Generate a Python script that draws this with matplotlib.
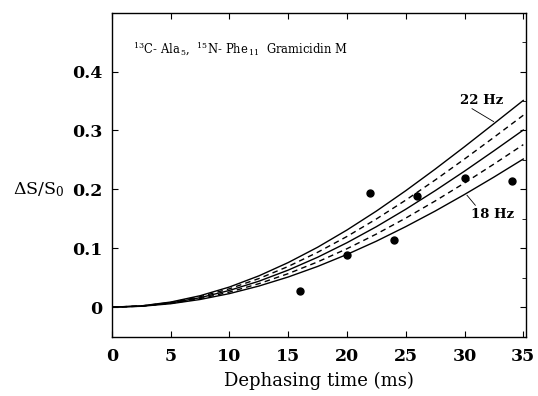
import numpy as np
import matplotlib
matplotlib.use("Agg")
import matplotlib.pyplot as plt

plt.rcParams['font.family'] = 'DejaVu Serif'
plt.rcParams['mathtext.fontset'] = 'dejavuserif'

t = [0, 2.5, 5, 7.5, 10, 12.5, 15, 17.5, 20, 22.5, 25, 27.5, 30, 32.5, 35]

# simulated dephasing curves for the couplings shown
curve_18 = [0, 0.00145, 0.0058, 0.0130, 0.0230, 0.0358, 0.0512, 0.0691, 0.0895, 0.1120, 0.1367, 0.1631, 0.1913, 0.2208, 0.2515]
curve_19 = [0, 0.00162, 0.00646, 0.0145, 0.0256, 0.0398, 0.0569, 0.0768, 0.0992, 0.1241, 0.1512, 0.1802, 0.2108, 0.2429, 0.2759]
curve_20 = [0, 0.00179, 0.00716, 0.0160, 0.0284, 0.0440, 0.0629, 0.0847, 0.1094, 0.1366, 0.1662, 0.1977, 0.2309, 0.2654, 0.3007]
curve_21 = [0, 0.00198, 0.00789, 0.0177, 0.0312, 0.0485, 0.0691, 0.0931, 0.1200, 0.1497, 0.1817, 0.2158, 0.2515, 0.2883, 0.3258]
curve_22 = [0, 0.00217, 0.00865, 0.0194, 0.0342, 0.0531, 0.0757, 0.1017, 0.1310, 0.1631, 0.1977, 0.2343, 0.2724, 0.3115, 0.3510]

# measured points
t_data = [16, 20, 22, 24, 26, 30, 34]
ds_data = [0.028, 0.089, 0.193, 0.114, 0.189, 0.219, 0.214]

fig = plt.figure(figsize=(5.38, 3.96), dpi=100)
ax = fig.add_axes([0.208, 0.150, 0.769, 0.818])

lw = 1.0
ax.plot(t, curve_22, color='black', lw=lw)
ax.plot(t, curve_21, color='black', lw=lw, dashes=(4, 3))
ax.plot(t, curve_20, color='black', lw=lw)
ax.plot(t, curve_19, color='black', lw=lw, dashes=(4, 3))
ax.plot(t, curve_18, color='black', lw=lw)
ax.plot(t_data, ds_data, 'o', color='black', ms=5)

# curve labels with leader lines
ax.text(31.47, 0.351, '22 Hz', fontsize=9.5, fontweight='heavy', ha='center', va='center')
ax.plot([30.64, 32.48], [0.337, 0.315], color='black', lw=0.6)
ax.text(32.41, 0.158, '18 Hz', fontsize=9.5, fontweight='heavy', ha='center', va='center')
ax.plot([30.92, 30.21], [0.173, 0.190], color='black', lw=0.6)

ax.text(1.8, 0.437, r'$^{13}$C- Ala$_{\,5}$,  $^{15}$N- Phe$_{\,11}$  Gramicidin M',
        fontsize=8.3, ha='left', va='center')

ax.set_xlim(0, 35.2)
ax.set_ylim(-0.05, 0.5)
ax.set_xticks([0, 5, 10, 15, 20, 25, 30, 35])
ax.set_yticks([0, 0.1, 0.2, 0.3, 0.4])
ax.set_yticklabels(['0', '0.1', '0.2', '0.3', '0.4'])
ax.set_yticks(np.arange(-0.05, 0.5, 0.05), minor=True)
ax.tick_params(which='both', direction='in', top=True, right=True, labelsize=12.5)
ax.tick_params(axis='x', pad=8)
ax.tick_params(axis='y', pad=7)
ax.tick_params(which='major', length=4)
ax.tick_params(which='minor', length=3, left=False)
for lab in ax.get_xticklabels() + ax.get_yticklabels():
    lab.set_fontweight('bold')
for s in ax.spines.values():
    s.set_linewidth(1.0)

ax.set_xlabel('Dephasing time (ms)', fontsize=13, labelpad=5)
fig.text(0.024, (0.150 + 0.818 * (0.25 / 0.55)), r'$\Delta$S/S$\mathregular{_0}$',
         fontsize=12.5, ha='left', va='center')

fig.savefig('out.png', dpi=100)
